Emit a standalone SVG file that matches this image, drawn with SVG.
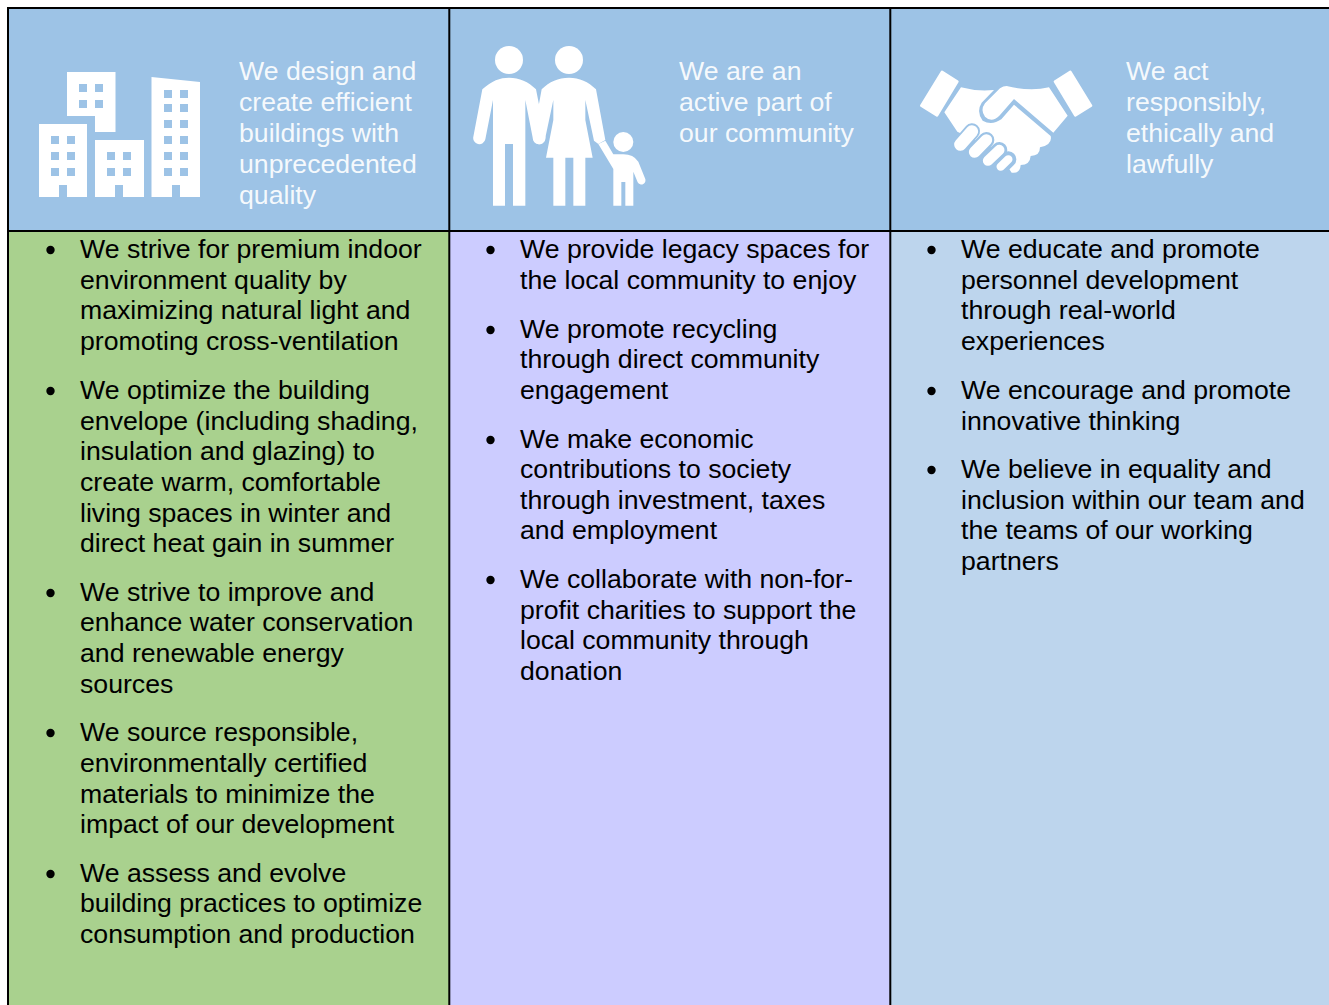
<svg xmlns="http://www.w3.org/2000/svg" width="1329" height="1005" viewBox="0 0 1329 1005">
<style>
text{font-family:"Liberation Sans",Arial,sans-serif;font-size:26.67px}
.h{fill:#fff;fill-opacity:.92;font-size:26.67px}
.b{fill:#000}
.w{fill:#fff}
.bg{fill:#9dc3e6}
.ln{stroke:#000;stroke-width:2;fill:none}
</style>
<rect width="1329" height="1005" fill="#fff"/>
<rect class="bg" x="8" y="8" width="1321" height="223"/>
<rect x="9" y="231" width="440" height="774" fill="#a9d18e"/>
<rect x="449" y="231" width="441" height="774" fill="#ccccff"/>
<rect x="890" y="231" width="439" height="774" fill="#bdd5ed"/>
<g id="connectors"/>
<g id="grid">
<path class="ln" d="M8,1005V8H1329M8,231H1329M449.300,8V1005M890.300,8V1005"/>
</g>
<g id="node-buildings">
<path class="w" fill-rule="evenodd" d="M39,124H87V197H67V185H59V197H39ZM51,136v8h8v-8ZM67,136v8h8v-8ZM51,152v8h8v-8ZM67,152v8h8v-8ZM51,168v8h8v-8ZM67,168v8h8v-8Z"/>
<path class="w" fill-rule="evenodd" d="M67,72H115.500V132H95V116H67ZM79,84v8h8v-8ZM95,84v8h8v-8ZM79,100v8h8v-8ZM95,100v8h8v-8Z"/>
<path class="w" fill-rule="evenodd" d="M95,140H144V197H123V185H115V197H95ZM107,152v8h8v-8ZM123,152v8h8v-8ZM107,168v8h8v-8ZM123,168v8h8v-8Z"/>
<path class="w" fill-rule="evenodd" d="M151.500,77L200,82V197H180V185H172V197H151.500ZM164,90v8h8v-8ZM180,90v8h8v-8ZM164,104v8h8v-8ZM180,104v8h8v-8ZM164,120v8h8v-8ZM180,120v8h8v-8ZM164,136v8h8v-8ZM180,136v8h8v-8ZM164,152v8h8v-8ZM180,152v8h8v-8ZM164,168v8h8v-8ZM180,168v8h8v-8Z"/>
<text class="h" x="239" y="80">We design and</text>
<text class="h" x="239" y="111">create efficient</text>
<text class="h" x="239" y="142">buildings with</text>
<text class="h" x="239" y="173">unprecedented</text>
<text class="h" x="239" y="204">quality</text>
</g>
<g id="node-community">
<g transform="translate(450 20) scale(.33333)">
<circle class="w" cx="177" cy="120" r="42"/>
<circle class="w" cx="357" cy="120" r="42"/>
<circle class="w" cx="520" cy="366" r="30"/>
<path class="w" d="M97,208C125,182 150,173 177,173C208,173 235,185 258,208L286,350A18,18 0 0 1 249,358L226,240V557H189V372H165V557H129V240L106,358A18,18 0 0 1 70,350Z"/>
<path class="w" d="M275,208C298,185 325,173 357,173C388,173 415,185 438,208L466,360L445,372L432,362L406,240V300L428,413H406V557H370V413H346V557H310V413H288L310,300V240L285,358A18,18 0 0 1 249,350Z"/>
<path class="w" d="M445,372L466,362L490,403H520Q550,403 565,425L585,475A12,12 0 0 1 563,487L550,455V557H526V486H514V557H490V447Z"/>
</g>
<text class="h" x="679" y="80">We are an</text>
<text class="h" x="679" y="111">active part of</text>
<text class="h" x="679" y="142">our community</text>
</g>
<g id="node-handshake">
<g transform="translate(900 50) scale(.33333)">
<path class="w" stroke="#fff" stroke-width="8" stroke-linejoin="round" d="M126,66L172,95L111,196L64,167Z"/>
<path class="w" stroke="#fff" stroke-width="8" stroke-linejoin="round" d="M511,66L465,95L526,196L573,167Z"/>
<path class="w" d="M133,187L183,112Q230,125 282,120L245,158Q228,185 248,212Q275,228 304,208L342,164L452,258Q458,285 420,292Q420,318 392,318Q390,345 362,345Q360,372 335,368L290,300L172,245Z"/>
<path class="w" d="M320,108Q390,125 447,112L503,197L460,248L342,147L298,197Q275,220 255,200Q240,180 255,160L300,115Q310,108 320,108Z"/>
<g fill="none" stroke-linecap="round" stroke="#9dc3e6" stroke-width="48">
<path d="M181,284L216,244"/><path d="M224,306L259,270"/><path d="M264,332L298,300"/><path d="M302,350L325,328"/>
</g>
<g fill="none" stroke-linecap="round" stroke="#fff">
<path stroke-width="37" d="M181,284L216,244"/><path stroke-width="35" d="M224,306L259,270"/><path stroke-width="31" d="M264,332L298,300"/><path stroke-width="25" d="M302,350L325,328"/>
</g>
</g>
<text class="h" x="1126" y="80">We act</text>
<text class="h" x="1126" y="111">responsibly,</text>
<text class="h" x="1126" y="142">ethically and</text>
<text class="h" x="1126" y="173">lawfully</text>
</g>
<g id="node-list-1">
<circle cx="50.500" cy="250" r="4.200"/><circle cx="50.500" cy="391" r="4.200"/><circle cx="50.500" cy="593" r="4.200"/><circle cx="50.500" cy="733" r="4.200"/><circle cx="50.500" cy="874" r="4.200"/>
<text class="b" x="80" y="258">We strive for premium indoor</text>
<text class="b" x="80" y="289">environment quality by</text>
<text class="b" x="80" y="319">maximizing natural light and</text>
<text class="b" x="80" y="350">promoting cross-ventilation</text>
<text class="b" x="80" y="399">We optimize the building</text>
<text class="b" x="80" y="430">envelope (including shading,</text>
<text class="b" x="80" y="460">insulation and glazing) to</text>
<text class="b" x="80" y="491">create warm, comfortable</text>
<text class="b" x="80" y="522">living spaces in winter and</text>
<text class="b" x="80" y="552">direct heat gain in summer</text>
<text class="b" x="80" y="601">We strive to improve and</text>
<text class="b" x="80" y="631">enhance water conservation</text>
<text class="b" x="80" y="662">and renewable energy</text>
<text class="b" x="80" y="693">sources</text>
<text class="b" x="80" y="741">We source responsible,</text>
<text class="b" x="80" y="772">environmentally certified</text>
<text class="b" x="80" y="803">materials to minimize the</text>
<text class="b" x="80" y="833">impact of our development</text>
<text class="b" x="80" y="882">We assess and evolve</text>
<text class="b" x="80" y="912">building practices to optimize</text>
<text class="b" x="80" y="943">consumption and production</text>
</g>
<g id="node-list-2">
<circle cx="490.500" cy="250" r="4.200"/><circle cx="490.500" cy="330" r="4.200"/><circle cx="490.500" cy="440" r="4.200"/><circle cx="490.500" cy="580" r="4.200"/>
<text class="b" x="520" y="258">We provide legacy spaces for</text>
<text class="b" x="520" y="289">the local community to enjoy</text>
<text class="b" x="520" y="338">We promote recycling</text>
<text class="b" x="520" y="368">through direct community</text>
<text class="b" x="520" y="399">engagement</text>
<text class="b" x="520" y="448">We make economic</text>
<text class="b" x="520" y="478">contributions to society</text>
<text class="b" x="520" y="509">through investment, taxes</text>
<text class="b" x="520" y="539">and employment</text>
<text class="b" x="520" y="588">We collaborate with non-for-</text>
<text class="b" x="520" y="619">profit charities to support the</text>
<text class="b" x="520" y="649">local community through</text>
<text class="b" x="520" y="680">donation</text>
</g>
<g id="node-list-3">
<circle cx="931.500" cy="250" r="4.200"/><circle cx="931.500" cy="391" r="4.200"/><circle cx="931.500" cy="470" r="4.200"/>
<text class="b" x="961" y="258">We educate and promote</text>
<text class="b" x="961" y="289">personnel development</text>
<text class="b" x="961" y="319">through real-world</text>
<text class="b" x="961" y="350">experiences</text>
<text class="b" x="961" y="399">We encourage and promote</text>
<text class="b" x="961" y="430">innovative thinking</text>
<text class="b" x="961" y="478">We believe in equality and</text>
<text class="b" x="961" y="509">inclusion within our team and</text>
<text class="b" x="961" y="539">the teams of our working</text>
<text class="b" x="961" y="570">partners</text>
</g>
</svg>
